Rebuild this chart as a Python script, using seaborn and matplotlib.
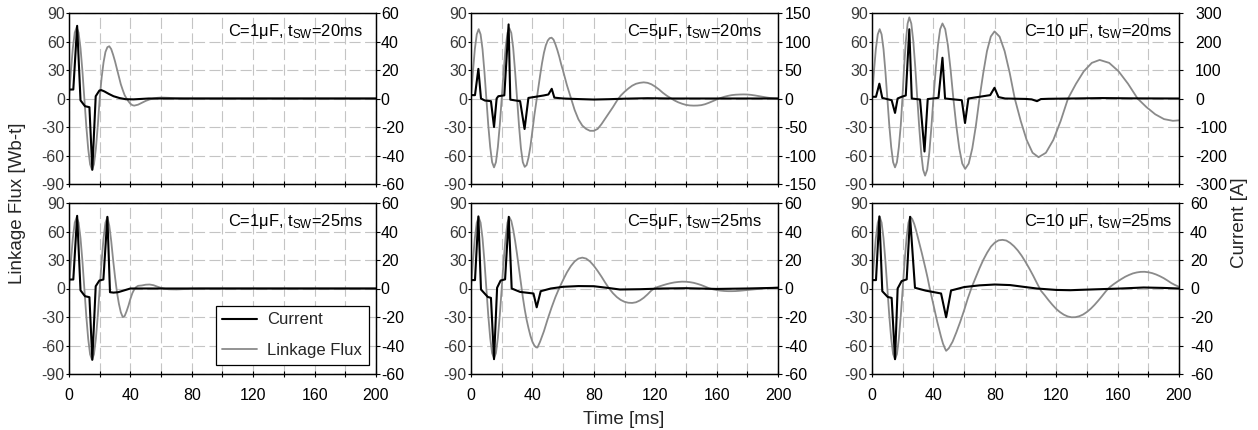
import matplotlib
matplotlib.use("Agg")
import matplotlib.pyplot as plt
import seaborn as sns
from matplotlib.ticker import MultipleLocator

# ---------------- data ----------------
# Panel A: C=1uF, tsw=20ms
flux_1u20_t = [0,1.25,2.5,3.75,5,6.25,7.5,8.75,10,11.25,12.5,13.75,15,16.25,17.5,18.75,20,
               21.25,22.5,23.75,25,26.25,27.5,28.75,30,31.25,32.5,33.75,35,36.25,37.5,38.75,40,41.25,42.5,
               45,47.5,50,52.5,55,57.5,60,65,70,75,200]
flux_1u20_v = [0,28.7,53,69.3,75,69.3,53,28.7,0,-28.7,-53,-69.3,-75,-69.3,-53,-28.7,0,
               22,38,49,54,55,52,46,39,31,23,15,9,3.5,0,-3,-5.5,-7,-7.5,
               -6.5,-4.5,-2.5,-1,0,0.7,1,0.7,0.2,0,0]
cur_1u20_t = [0,2.8,5.3,7.5,10.4,13.3,15.2,17.4,19.8,21,23,26,29,33,37,42,47,52,200]
cur_1u20_v = [6.3,6.3,51,-1.3,-5.4,-6.1,-50,1.6,5.6,5.9,5,3.2,1.6,0.3,-0.5,-0.6,-0.3,0,0]

# Panel B: C=5uF, tsw=20ms
flux_5u20_t = [0,1.25,2.5,3.75,5,6.25,7.5,8.75,10,11.25,12.5,13.75,15,16.25,17.5,18.75,20,
               21.25,22.5,23.75,25,26.25,27.5,28.75,30,31.25,32.5,33.75,35,
               36.25,37.5,38.75,40,41.25,42.5,43.75,45,46.25,47.5,48.75,50,51.25,52.5,53.75,55,56.25,57.5,58.75,60,
               62.5,65,67.5,70,72.5,75,77.5,80,82.5,85,87.5,90,92.5,95,97.5,100,102.5,105,107.5,110,
               112.5,115,117.5,120,122.5,125,127.5,130,132.5,135,137.5,140,142.5,145,147.5,150,
               152.5,155,157.5,160,162.5,165,167.5,170,172.5,175,177.5,180,182.5,185,187.5,190,192.5,195,197.5,200]
flux_5u20_v = [0,28,52,67.5,73,67.5,52,28,0,-28,-51,-67,-72.5,-67,-51,-28,0,
               28,53,69,74,69,53,28,0,-28,-52,-67,-72,
               -70,-62,-50,-34,-18,-4,10,24,37,48,56,61,63.5,64,62,57,51,44,36,29,
               14,1,-12,-22,-28.5,-32,-34,-34,-32,-27,-21,-15,-9,-2.5,3,7,10.5,13.5,15.5,16.5,
               17,16.5,15,12.5,9.5,6,3,0.5,-2,-4,-5.5,-6.7,-7.3,-7.5,-7.4,-7,
               -6,-4.5,-2.8,-1,0.5,1.8,2.8,3.6,4,4.2,4.3,4.2,3.8,3.2,2.5,1.8,1.1,0.5,0.1,-0.2]
cur_5u20_t = [0,2.6,4.8,6.5,9,13,15,16.7,17.8,21.7,24.5,25.6,32,34.9,37.4,42,47.3,50.4,52.6,54.3,
              60,70,80,90,100,115,130,200]
cur_5u20_v = [5.9,5.9,52,0,-3.5,-4.7,-50,0,4,5.5,130,-2,-4.7,-53.5,1,3,5.3,7,17,1.5,
              0,-1,-1.8,-1.2,-0.3,0.5,0,0]

# Panel C: C=10uF, tsw=20ms
flux_10u20_t = [0,1.25,2.5,3.75,5,6.25,7.5,8.75,10,11.25,12.5,13.75,15,16.25,17.5,18.75,19.8,
                20.9,22.05,23.2,24.3,25.6,26.9,28.2,29.5,30.8,32.05,33.3,34.6,35.95,37.3,38.65,40,
                41.5,42.95,44.4,45.9,47.7,49.45,51.2,53,54.9,56.85,58.8,60.7,63,65.35,67.7,70,
                72.5,74.9,77.4,79.8,83.1,86.4,89.7,93,96.9,100.75,104.6,108.5,113.3,118.1,122.9,127.7,
                132.9,138,143.2,148.3,154.5,160.6,166.8,173,178.75,184.5,190.25,196,200]
flux_10u20_v = [0,28,52,67.5,73,67.5,52,28,0,-28,-51,-67,-72.5,-67,-51,-28,0,
                32.7,60.4,78.9,85.4,78.9,60.4,32.7,0,-31.1,-57.4,-75,-81.2,-75,-57.4,-31.1,0,
                30.3,55.9,73,79,73,55.9,30.3,0,-28.4,-52.4,-68.5,-74.1,-68.5,-52.4,-28.4,0,
                27,49.9,65.2,70.6,65.2,49.9,27,0,-23.7,-43.7,-57.1,-61.8,-57.1,-43.7,-23.7,0,
                15.5,28.7,37.5,40.6,37.5,28.7,15.5,0,-9,-16.6,-21.7,-23.5,-23]
cur_10u20_t = [0,2.6,4.8,6.7,12.8,15,16.7,19.3,22,24.3,25.9,31.3,34.2,36.3,43.3,45.9,47.6,58.5,60.6,62.8,
               77,79.8,82.4,86.7,100,104,107.5,110,115,130,150,170,200]
cur_10u20_v = [6,6,52,2,-6,-50.6,0,6,10.6,243,0,-3.5,-186,-2,2.3,143,0,-6,-86,0,
               11.8,37.6,5,0,-1.5,-3,-9.4,-2,-1,0,1.5,0.5,0]

# Panel D: C=1uF, tsw=25ms
flux_1u25_t = [0,1.25,2.5,3.75,5,6.25,7.5,8.75,10,11.25,12.5,13.75,15,16.25,17.5,18.75,20,21.25,22.5,23.75,25,
               26.25,27.5,28.75,30,31.25,32.5,33.75,35,36.25,37.5,38.75,40,41.25,42.5,43.75,45,
               47.5,50,52.5,55,57.5,60,62.5,65,70,75,80,85,200]
flux_1u25_v = [0,28.7,53,69.3,75,69.3,53,28.7,0,-28.7,-53,-69.3,-75,-69.3,-53,-28.7,0,28.7,53,69.3,75,
               66,50,30,12,-4,-16,-25,-30,-29,-24,-18,-11,-5,-1,1.5,2.8,
               3.2,4,4.2,3.5,2,0.6,-0.3,-0.8,-1,-0.6,-0.2,0,0]
cur_1u25_t = [0,2.8,5.3,7.5,10.4,13.3,15.2,17.4,19.8,22.4,25,26.7,29,32,36,40,200]
cur_1u25_v = [6.3,6.3,51,-1.3,-5.4,-6.1,-50,1.6,5.6,6.3,50.3,-2.6,-2.9,-2.6,-1.3,0,0]

# Panel E: C=5uF, tsw=25ms
flux_5u25_t = [0,1.25,2.5,3.75,5,6.25,7.5,8.75,10,11.25,12.5,13.75,15,16.25,17.5,18.75,20,21.25,22.5,23.75,25,
               26.25,27.5,28.75,30,31.25,32.5,33.75,35,36.25,37.5,38.75,40,41.25,42.5,43.3,
               45,47.5,50,52.5,55,57.5,60,62.5,65,67.5,70,72.5,75,77.5,80,82.5,85,87.5,90,92.5,
               95,97.5,100,102.5,105,107.5,110,112.5,115,117.5,120,122.5,125,127.5,130,132.5,135,137.5,140,142.5,
               145,147.5,150,152.5,155,157.5,160,162.5,165,167.5,170,172.5,175,177.5,180,185,190,195,200]
flux_5u25_v = [0,28.7,53,69.3,75,69.3,53,28.7,0,-28.2,-52,-68,-73.5,-68,-52,-28.2,0,28.7,53,69.3,75,
               71,62,50,36,21,6,-9,-22,-33,-42,-50,-56,-60,-62,-62.1,
               -56,-45,-32,-20,-9,0.5,9,17,23.5,28.5,31.5,32.5,31.5,28.5,24,18.5,12.5,6,0,-5,
               -9,-12,-14,-15,-15.2,-14.5,-12.6,-9.8,-6.2,-2.1,0.7,2.1,3.4,4.6,5.6,6.4,6.9,7.2,7.1,6.7,
               6,4.9,3.6,2,0.3,-0.8,-1.6,-2.2,-2.6,-2.8,-2.8,-2.7,-2.4,-2,-1.6,-0.8,-0.1,0.5,1]
cur_5u25_t = [0,2.6,4.8,6.5,10.9,13,15,17,19.3,22.2,24.6,26.5,32,40.7,42.8,45.4,52,60,70,80,90,97,
              110,125,140,160,180,200]
cur_5u25_v = [5.9,5.9,50.6,-0.7,-5.9,-6.6,-49.6,0.5,5.6,6.4,50.3,0,-2.4,-3.5,-13.2,-1.9,0,1.2,1.7,1.6,0.3,-0.7,
              -0.5,0,0.2,-0.3,0,0.5]

# Panel F: C=10uF, tsw=25ms
flux_10u25_t = [0,1.25,2.5,3.75,5,6.25,7.5,8.75,10,11.25,12.5,13.75,15,16.25,17.5,18.75,20,21.25,22.5,23.75,25,
                26.25,27.5,28.75,30,31.25,32.5,33.75,35,36.25,37.5,38.75,40,41.25,42.5,43.75,45,46.25,47.5,48.3,
                50,52.5,55,57.5,60,62.5,65,67.5,70,72.5,75,77.5,80,82.5,85,87.5,90,92.5,95,97.5,
                100,102.5,105,107.5,110,112.5,115,117.5,120,122.5,125,127.5,130,132.5,135,137.5,140,142.5,145,147.5,
                150,152.5,155,157.5,160,162.5,165,167.5,170,172.5,175,177.5,180,182.5,185,187.5,190,192.5,195,197.5,200]
flux_10u25_v = [0,28.7,53,69.3,75.5,69.3,53,28.7,0,-28.5,-52.7,-69,-74.5,-69,-52.7,-28.5,0,28.7,53,69.3,75.5,
                73,68,61,53,45,37,28.5,20,11,1,-8,-17,-26,-35,-43,-51,-58,-63,-65.6,
                -63,-56,-46,-35,-23,-10,1.5,11.4,21.2,30.1,37.7,44.1,48.3,50.7,51.2,50.5,48,44.5,40,34.5,
                28,21,13.5,5.5,-2.2,-7.1,-12.3,-17.1,-21.5,-24.9,-27.6,-29.4,-30.3,-30.2,-29.2,-27.4,-24.7,-21.3,-17.2,-12.6,
                -7.7,-2.6,1.6,4.6,7.4,10,12.4,14.3,15.9,16.9,17.5,17.6,17.1,16.2,14.8,13,10.9,8.4,5.7,3.6,1.8]
cur_10u25_t = [0,2.6,4.8,6.7,10.2,12.8,15,16.7,19.3,22.6,24.8,28,35,45,48.3,51.5,60,70,80,90,100,107.4,
               120,129,145,162,177,190,200]
cur_10u25_v = [5.9,5.9,50.6,-1.9,-5.9,-6.6,-49.6,0,5.2,6.4,50.3,0.5,-1.5,-3.5,-20.2,-1.4,1,2.2,2.8,2.4,1,0,
               -1,-1.2,-0.6,0,0.7,0.4,0]

panel_labels = ["C=1\u03bcF, t$_{\\rm SW}$=20ms", "C=5\u03bcF, t$_{\\rm SW}$=20ms", "C=10 \u03bcF, t$_{\\rm SW}$=20ms",
                "C=1\u03bcF, t$_{\\rm SW}$=25ms", "C=5\u03bcF, t$_{\\rm SW}$=25ms", "C=10 \u03bcF, t$_{\\rm SW}$=25ms"]
current_limits = [60, 150, 300, 60, 60, 60]
current_steps = [20, 50, 100, 20, 20, 20]
x_ticks = [0, 40, 80, 120, 160, 200]
flux_ticks = [-90, -60, -30, 0, 30, 60, 90]
legend_labels = ["Current", "Linkage Flux"]

panels = [
    (flux_1u20_t, flux_1u20_v, cur_1u20_t, cur_1u20_v),
    (flux_5u20_t, flux_5u20_v, cur_5u20_t, cur_5u20_v),
    (flux_10u20_t, flux_10u20_v, cur_10u20_t, cur_10u20_v),
    (flux_1u25_t, flux_1u25_v, cur_1u25_t, cur_1u25_v),
    (flux_5u25_t, flux_5u25_v, cur_5u25_t, cur_5u25_v),
    (flux_10u25_t, flux_10u25_v, cur_10u25_t, cur_10u25_v),
]

# ---------------- style ----------------
sns.set_theme(style="ticks")
plt.rcParams['font.family'] = ['Liberation Sans', 'DejaVu Sans']
plt.rcParams['axes.unicode_minus'] = False
plt.rcParams['mathtext.fontset'] = 'custom'
plt.rcParams['mathtext.rm'] = 'Liberation Sans'
plt.rcParams['mathtext.it'] = 'Liberation Sans:italic'
plt.rcParams['mathtext.bf'] = 'Liberation Sans:bold'

W, H = 1258, 430
fig = plt.figure(figsize=(W / 100, H / 100), dpi=100)
fig.patch.set_facecolor('white')

col_left = [69, 471, 872]
row_top = [13, 203]
ax_w, ax_h = 307, 171
text_x = [0.958, 0.947, 0.977, 0.958, 0.947, 0.977]
right_pad = [0.5, 1.5, 8.5, 0.5, 1.5, 5.0]

GRAY = '#8a8a8a'
GRID = '#c4c4c4'
TICKCOL = '#3a3a3a'

for i, (ft, fv, ct, cv) in enumerate(panels):
    r, c = divmod(i, 3)
    left = col_left[c] / W
    bottom = 1 - (row_top[r] + ax_h) / H
    ax = fig.add_axes([left, bottom, ax_w / W, ax_h / H])
    ax.set_facecolor('white')
    ax2 = ax.twinx()

    sns.lineplot(x=ft, y=fv, ax=ax, color=GRAY, linewidth=1.3, estimator=None, sort=False, legend=False)
    sns.lineplot(x=ct, y=cv, ax=ax2, color='black', linewidth=1.5, estimator=None, sort=False, legend=False)

    ax.set_xlim(0, 200)
    ax.set_ylim(-90, 90)
    ax.set_yticks(flux_ticks)
    ax.set_xticks(x_ticks)
    ax.xaxis.set_minor_locator(MultipleLocator(20))
    lim = current_limits[i]
    ax2.set_ylim(-lim, lim)
    ax2.yaxis.set_major_locator(MultipleLocator(current_steps[i]))
    ax.set_xlabel('')
    ax.set_ylabel('')
    ax2.set_ylabel('')

    ax.grid(True, which='both', axis='x', color=GRID, linestyle=(0, (10, 4)), linewidth=0.8)
    ax.grid(True, which='major', axis='y', color=GRID, linestyle=(0, (10, 4)), linewidth=0.8)
    ax.set_axisbelow(True)

    for a in (ax, ax2):
        for s in a.spines.values():
            s.set_color('black')
            s.set_linewidth(0.9)

    ax.tick_params(axis='x', which='both', direction='inout', length=5, width=0.8, color='black',
                   labelsize=11.5, labelcolor='black', pad=7.5, labelbottom=(r == 1))
    ax.tick_params(axis='y', which='major', direction='out', length=2, width=0.8, color='black',
                   labelsize=11.5, labelcolor=TICKCOL, pad=1)
    ax2.tick_params(axis='y', which='major', direction='out', length=3, width=0.8, color='black',
                    labelsize=11.5, labelcolor='black', pad=right_pad[i])

    ax2.text(text_x[i], 0.889, panel_labels[i], transform=ax.transAxes, ha='right', va='center',
             fontsize=11.9, color='black')

    if i == 3:
        h_cur = ax2.lines[0]
        h_flux = ax.lines[0]
        leg = ax2.legend([h_cur, h_flux], legend_labels, loc='lower right',
                         bbox_to_anchor=(0.977, 0.053), borderaxespad=0, fancybox=False,
                         framealpha=1, edgecolor='black', fontsize=12, handlelength=2.1,
                         handletextpad=0.6, borderpad=0.4, labelspacing=0.95)
        leg.get_frame().set_linewidth(0.9)

fig.text(18 / W, 1 - 203 / H, "Linkage Flux [Wb-t]", rotation=90, ha='center', va='center', fontsize=13.5)
fig.text(1240 / W, 1 - 223 / H, "Current [A]", rotation=90, ha='center', va='center', fontsize=13.5)
fig.text(624 / W, 1 - 420 / H, "Time [ms]", ha='center', va='center', fontsize=13.5)

fig.savefig("out.png", dpi=100, facecolor='white')
